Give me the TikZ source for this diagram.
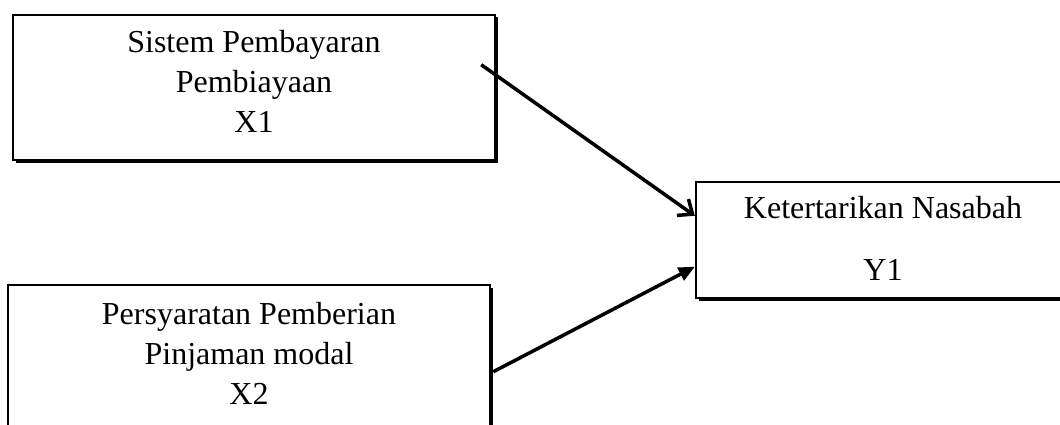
\documentclass[tikz,border=0pt]{standalone}
\usepackage{fontspec}
\setmainfont{Liberation Serif}
\usetikzlibrary{arrows.meta,shadows,calc}
\begin{document}
\begin{tikzpicture}[x=1pt,y=-1pt,
  varbox/.style={draw=black, fill=white, line width=2.5pt, inner sep=0pt, align=center,
    font=\fontsize{32}{40}\selectfont,
    general shadow={fill=black, shadow xshift=2.5pt, shadow yshift=-2.5pt}},
  conn/.style={line width=3.5pt}]
\useasboundingbox (0,0) rectangle (1060,425);
\node[varbox, minimum width=482pt, minimum height=145pt, text depth=12pt] (x1) at (254,87.5)
  {Sistem Pembayaran\\Pembiayaan\\X1};
\node[varbox, minimum width=482pt, minimum height=145pt, text depth=8pt] (x2) at (249,357.5)
  {Persyaratan Pemberian\\Pinjaman modal\\X2};
\node[varbox, minimum width=374pt, minimum height=116pt, text depth=3pt] (y1) at (883,240)
  {Ketertarikan Nasabah\\[22pt]Y1};
\coordinate (s1) at ($(x1.north east)+(-15,51)$);
\coordinate (e1) at ($(y1.north west)+(0,35)$);
\coordinate (s2) at ($(x2.north east)+(2,88)$);
\coordinate (e2) at ($(y1.north west)+(0,86)$);
\draw[conn, -{Straight Barb[length=12pt,width=20pt,line width=3.5pt]}] (s1) -- (e1);
\draw[conn, -{Triangle[length=16pt,width=14pt]}] (s2) -- (e2);
\end{tikzpicture}
\end{document}
